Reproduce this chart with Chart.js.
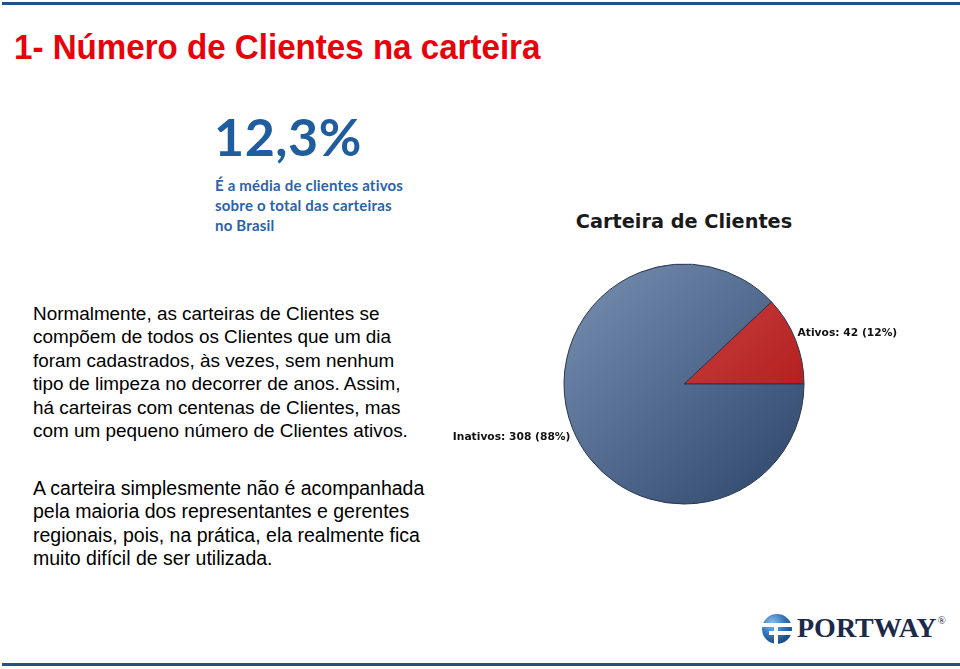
<!DOCTYPE html>
<html>
<head>
<meta charset="utf-8">
<script src="https://cdn.jsdelivr.net/npm/chart.js@4/dist/chart.umd.min.js"></script>
<style>
  html, body { margin:0; padding:0; background:#fff; }
  body { width:960px; height:669px; position:relative; overflow:hidden; }
  .line { position:absolute; left:2px; right:0; height:3px; background:#1f5289; }
  #title { position:absolute; left:14px; top:28px; font-family:"Liberation Sans",Arial,sans-serif; font-weight:bold; font-size:34.5px; color:#e8000b; white-space:nowrap; transform:scaleX(0.96); transform-origin:left top; }
  #big { position:absolute; left:214px; top:105px; font-family:Lato,"Open Sans",sans-serif; font-weight:bold; font-size:52px; color:#1f5d9e; letter-spacing:0.5px; }
  #sub { position:absolute; left:215px; top:175px; font-family:Lato,"Open Sans",sans-serif; font-weight:bold; font-size:15px; line-height:20px; color:#2a63a8; letter-spacing:0.2px; }
  #ctitle { position:absolute; left:440px; width:488px; top:210px; text-align:center; font-family:"DejaVu Sans",Verdana,sans-serif; font-weight:bold; font-size:19.3px; color:#1a1a1a; }
  .para { position:absolute; left:33px; font-family:"Liberation Sans",Arial,sans-serif; line-height:23.4px; color:#000; white-space:nowrap; }
  #chartbox { position:absolute; left:440px; top:200px; width:488px; height:368px; }
  #logo { position:absolute; left:760px; top:612px; }
  #logotext { position:absolute; left:797px; top:612px; font-family:"Liberation Serif","Times New Roman",serif; font-weight:bold; font-size:28px; color:#1c2a4a; white-space:nowrap; }
  #logotext sup { font-size:11px; font-weight:normal; vertical-align:top; position:relative; top:2px; left:1px; }
</style>
</head>
<body>
<div class="line" style="top:2px;"></div>
<div class="line" style="top:663px;"></div>
<div id="title">1- Número de Clientes na carteira</div>
<div id="big">12,3%</div>
<div id="sub">É a média de clientes ativos<br>sobre o total das carteiras<br>no Brasil</div>
<div id="ctitle">Carteira de Clientes</div>
<div class="para" style="top:302px; font-size:18.9px;">Normalmente, as carteiras de Clientes se<br>compõem de todos os Clientes que um dia<br>foram cadastrados, às vezes, sem nenhum<br>tipo de limpeza no decorrer de anos. Assim,<br>há carteiras com centenas de Clientes, mas<br>com um pequeno número de Clientes ativos.</div>
<div class="para" style="top:477px; font-size:19.5px;">A carteira simplesmente não é acompanhada<br>pela maioria dos representantes e gerentes<br>regionais, pois, na prática, ela realmente fica<br>muito difícil de ser utilizada.</div>
<div id="chartbox"><canvas id="c" width="488" height="368"></canvas></div>
<svg id="logo" width="34" height="34" viewBox="0 0 34 34">
  <defs>
    <radialGradient id="lg" cx="0.35" cy="0.3" r="0.8">
      <stop offset="0" stop-color="#8fc0ea"/>
      <stop offset="0.5" stop-color="#2f78bf"/>
      <stop offset="1" stop-color="#123e78"/>
    </radialGradient>
  </defs>
  <circle cx="17" cy="17" r="15" fill="url(#lg)"/>
  <rect x="2" y="11" width="30" height="4" fill="#fff"/>
  <rect x="9" y="19" width="23" height="4" fill="#fff"/>
  <rect x="14" y="11" width="4" height="22" fill="#fff"/>
</svg>
<div id="logotext">PORTWAY<sup>®</sup></div>
<script>
const categories = ["Ativos", "Inativos"];
const values = [42, 308];
const percentLabels = ["12%", "88%"];

const labelPlugin = {
  id: 'sliceLabels',
  afterDatasetsDraw(chart) {
    const ctx = chart.ctx;
    const meta = chart.getDatasetMeta(0);
    ctx.save();
    ctx.font = 'bold 10.7px "DejaVu Sans", Verdana, sans-serif';
    ctx.fillStyle = '#111';
    ctx.textBaseline = 'middle';
    meta.data.forEach((arc, i) => {
      const p = arc.getProps(['x','y','startAngle','endAngle','outerRadius'], true);
      const mid = (p.startAngle + p.endAngle) / 2;
      const ex = p.x + Math.cos(mid) * p.outerRadius;
      const ey = p.y + Math.sin(mid) * p.outerRadius;
      const txt = categories[i] + ': ' + values[i] + ' (' + percentLabels[i] + ')';
      if (Math.cos(mid) >= 0) {
        ctx.textAlign = 'left';
        ctx.fillText(txt, ex + 2, ey - 7);
      } else {
        ctx.textAlign = 'right';
        ctx.fillText(txt, ex - 2, ey + 9);
      }
    });
    ctx.restore();
  }
};

function grad(ctx, c1, c2) {
  const chart = ctx.chart;
  const area = chart.chartArea;
  if (!area || !isFinite(area.left)) return c1;
  const cx = (area.left + area.right) / 2, cy = (area.top + area.bottom) / 2, r = 120;
  const g = chart.ctx.createLinearGradient(cx - r, cy - r, cx + r, cy + r);
  g.addColorStop(0, c1);
  g.addColorStop(1, c2);
  return g;
}

new Chart(document.getElementById('c'), {
  type: 'pie',
  data: {
    labels: categories,
    datasets: [{
      data: values,
      backgroundColor: (ctx) => ctx.dataIndex === 0
        ? grad(ctx, '#d85656', '#a80e0e')
        : grad(ctx, '#7890b2', '#2c4468'),
      borderColor: '#2b3550',
      borderWidth: 1
    }]
  },
  options: {
    responsive: false,
    animation: false,
    rotation: 46.8,
    radius: 120,
    layout: { padding: 0 },
    plugins: {
      legend: { display: false },
      tooltip: { enabled: false },
      title: { display: false }
    }
  },
  plugins: [labelPlugin]
});
</script>
</body>
</html>
